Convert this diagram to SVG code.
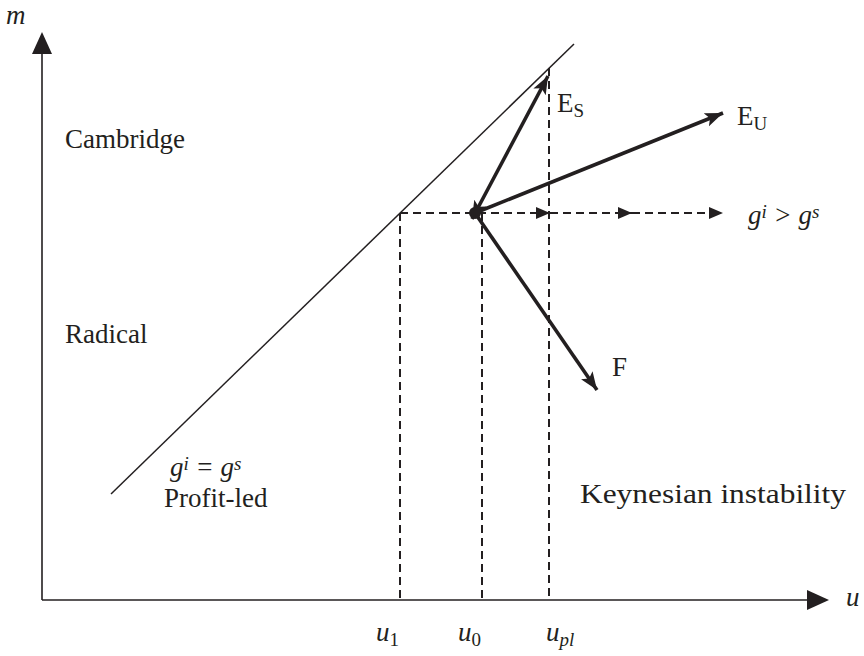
<svg xmlns="http://www.w3.org/2000/svg" width="864" height="656" viewBox="0 0 864 656">
<style>
.ax{stroke:#231f20;stroke-width:1.6;fill:none}
.thin{stroke:#231f20;stroke-width:1.5;fill:none}
.thick{stroke:#231f20;stroke-width:3.6;fill:none}
.dash{stroke:#231f20;stroke-width:2;fill:none;stroke-dasharray:8 5}
.t{font-family:"Liberation Serif","Times New Roman",serif;font-size:27px;fill:#231f20}
.it{font-style:italic}
.sub{font-size:19px}
</style>
<defs>
<marker id="ah" markerUnits="userSpaceOnUse" markerWidth="20" markerHeight="16" refX="18" refY="7" orient="auto-start-reverse"><path d="M0,0 L18,7 L0,14 L4,7 Z" fill="#231f20"/></marker>
<marker id="ahs" markerUnits="userSpaceOnUse" markerWidth="16" markerHeight="14" refX="14" refY="6" orient="auto"><path d="M0,0 L14,6 L0,12 Z" fill="#231f20"/></marker>
</defs>
<g id="axes">
<line class="ax" x1="42" y1="600" x2="42" y2="50"/>
<polygon points="42,32 32,54 52,54" fill="#231f20"/>
<line class="ax" x1="42" y1="600" x2="810" y2="600"/>
<polygon points="829,600 807,590 807,610" fill="#231f20"/>
<text class="t it" x="6" y="24">m</text>
<text class="t it" x="846" y="606">u</text>
</g>
<g id="connectors">
<line class="thin" x1="111" y1="494" x2="574" y2="44"/>
<line class="dash" x1="400" y1="213" x2="400" y2="600"/>
<line class="dash" x1="482" y1="213" x2="482" y2="600"/>
<line class="dash" x1="549" y1="68" x2="549" y2="600"/>
<line class="dash" x1="400" y1="213" x2="550" y2="213" marker-end="url(#ahs)"/>
<line class="dash" x1="550" y1="213" x2="632" y2="213" marker-end="url(#ahs)"/>
<line class="dash" x1="632" y1="213" x2="723" y2="213" marker-end="url(#ahs)"/>
<line class="thick" x1="472" y1="219" x2="548" y2="76" marker-start="url(#ah)" marker-end="url(#ah)"/>
<line class="thick" x1="475" y1="213" x2="723" y2="113" marker-end="url(#ah)"/>
<line class="thick" x1="475" y1="213" x2="597" y2="390" marker-end="url(#ah)"/>
<circle cx="475" cy="213" r="6" fill="#231f20"/>
</g>
<g id="labels">
<text class="t" x="65" y="148">Cambridge</text>
<text class="t" x="65" y="343">Radical</text>
<text class="t it" x="170" y="476">g<tspan class="sub" dy="-6">i</tspan><tspan dy="6"> = g</tspan><tspan class="sub" dy="-6">s</tspan></text>
<text class="t" x="164" y="507">Profit-led</text>
<text class="t" x="580" y="503" textLength="266" lengthAdjust="spacingAndGlyphs">Keynesian instability</text>
<text class="t" x="612" y="376">F</text>
<text class="t" x="557" y="112">E<tspan class="sub" dy="5">S</tspan></text>
<text class="t" x="737" y="125">E<tspan class="sub" dy="5">U</tspan></text>
<text class="t it" x="748" y="224">g<tspan class="sub" dy="-6">i</tspan><tspan dy="6"> &gt; g</tspan><tspan class="sub" dy="-6">s</tspan></text>
<text class="t it" x="376" y="641">u<tspan class="sub" font-style="normal" dy="5">1</tspan></text>
<text class="t it" x="458" y="641">u<tspan class="sub" font-style="normal" dy="5">0</tspan></text>
<text class="t it" x="546" y="641">u<tspan class="sub" dy="5">pl</tspan></text>
</g>
</svg>
